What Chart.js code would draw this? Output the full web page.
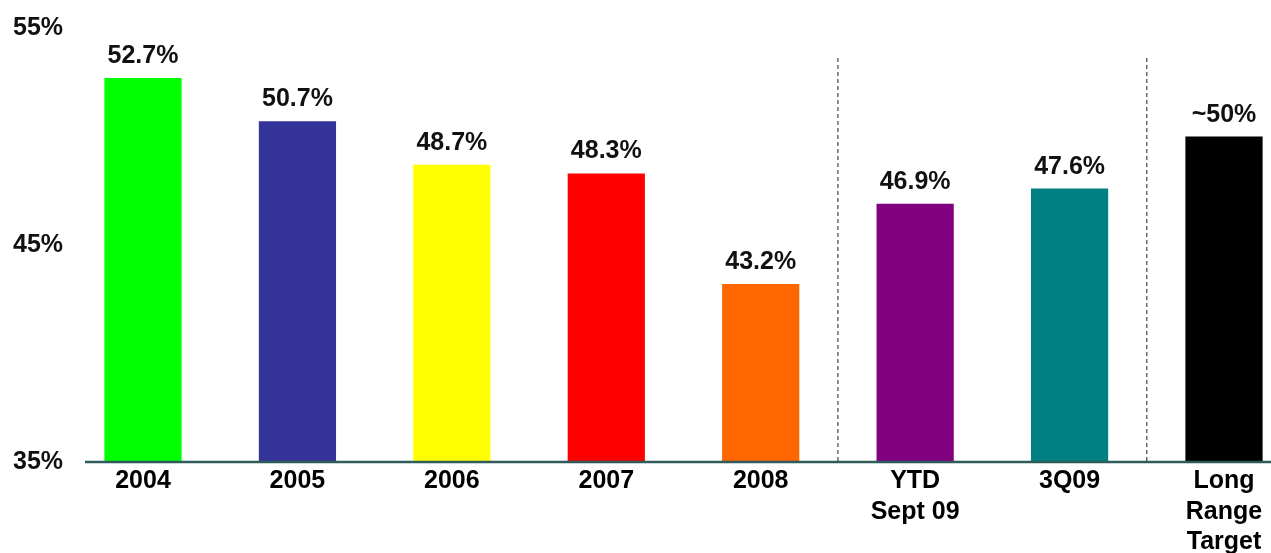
<!DOCTYPE html>
<html>
<head>
<meta charset="utf-8">
<script src="https://cdn.jsdelivr.net/npm/chart.js@4/dist/chart.umd.min.js"></script>
<style>
  html, body { margin: 0; padding: 0; background: #fff; overflow: hidden; }
  #wrap { width: 1271px; height: 553px; }
</style>
</head>
<body>
<div id="wrap"><canvas id="myChart" width="1271" height="553"></canvas></div>
<script>
// category labels along the x-axis
var periods = ["2004", "2005", "2006", "2007", "2008", ["YTD", "Sept 09"], "3Q09", ["Long", "Range", "Target"]];
// bar values (percent)
var values = [52.7, 50.7, 48.7, 48.3, 43.2, 46.9, 47.6, 50];
// text above each bar
var valueLabels = ["52.7%", "50.7%", "48.7%", "48.3%", "43.2%", "46.9%", "47.6%", "~50%"];
var barColors = ["#00ff00", "#333399", "#ffff00", "#ff0000", "#ff6600", "#800080", "#008080", "#000000"];
// dashed separators go after these category indexes
var dividersAfter = [4, 6];
// y axis ticks
var yTicks = [35, 45, 55];

var FONT = "'Liberation Sans', Arial, sans-serif";

// value labels, dashed separators and the base line
var extras = {
  id: "extras",
  afterDatasetsDraw: function(chart) {
    var ctx = chart.ctx;
    var x = chart.scales.x, y = chart.scales.y;
    var meta = chart.getDatasetMeta(0);
    ctx.save();
    ctx.font = "bold 25px " + FONT;
    ctx.fillStyle = "#111";
    ctx.textAlign = "center";
    ctx.textBaseline = "alphabetic";
    meta.data.forEach(function(bar, i) {
      ctx.fillText(valueLabels[i], bar.x, bar.y - 15);
    });

    ctx.strokeStyle = "#444";
    ctx.lineWidth = 1.2;
    ctx.setLineDash([4, 3]);
    dividersAfter.forEach(function(i) {
      var px = (x.getPixelForTick(i) + x.getPixelForTick(i + 1)) / 2;
      ctx.beginPath();
      ctx.moveTo(px, 58);
      ctx.lineTo(px, y.getPixelForValue(35));
      ctx.stroke();
    });

    ctx.setLineDash([]);
    ctx.strokeStyle = "#2f5b5b";
    ctx.lineWidth = 2.5;
    var base = y.getPixelForValue(35);
    ctx.beginPath();
    ctx.moveTo(85, base);
    ctx.lineTo(chart.width, base);
    ctx.stroke();
    ctx.restore();
  }
};

var ctx = document.getElementById("myChart");
var myChart = new Chart(ctx, {
  type: "bar",
  data: {
    labels: periods,
    datasets: [{
      data: values,
      base: 35,
      backgroundColor: barColors,
      borderWidth: 0,
      categoryPercentage: 1,
      barPercentage: 0.5,
      clip: false
    }]
  },
  options: {
    responsive: false,
    animation: false,
    layout: { padding: { left: 13, right: 47, top: 28, bottom: 0 } },
    plugins: {
      legend: { display: false },
      tooltip: { enabled: false }
    },
    scales: {
      x: {
        offset: false,
        grid: { display: false, drawTicks: false },
        border: { display: false },
        ticks: {
          color: "#000",
          padding: 4,
          maxRotation: 0,
          autoSkip: false,
          font: { family: FONT, size: 25, weight: "bold", lineHeight: 1.22 }
        },
        afterFit: function(s) { s.height = 91; }
      },
      y: {
        min: 35,
        max: 55,
        grid: { display: false, drawTicks: false },
        border: { display: false },
        afterBuildTicks: function(s) {
          s.ticks = yTicks.map(function(v) { return { value: v }; });
        },
        ticks: {
          color: "#111",
          padding: 4,
          crossAlign: "far",
          font: { family: FONT, size: 25, weight: "bold" },
          callback: function(v) { return v + "%"; }
        },
        afterFit: function(s) { s.width = 130; }
      }
    }
  },
  plugins: [extras]
});
</script>
</body>
</html>
